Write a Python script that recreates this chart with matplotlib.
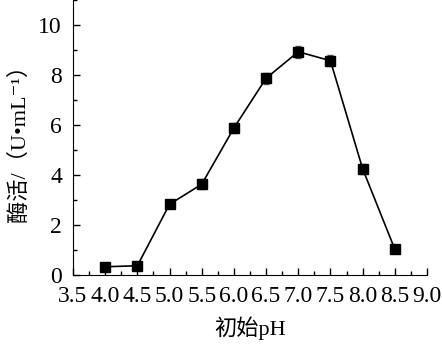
import numpy as np
import matplotlib.pyplot as plt
from matplotlib.ticker import MultipleLocator

ph = [4.0, 4.5, 5.0, 5.5, 6.0, 6.5, 7.0, 7.5, 8.0, 8.5]
activity = [0.33, 0.37, 2.83, 3.63, 5.88, 7.87, 8.93, 8.57, 4.25, 1.03]
err = [0.1, 0.1, 0.12, 0.2, 0.2, 0.22, 0.23, 0.22, 0.2, 0.15]
xticks = [3.5, 4.0, 4.5, 5.0, 5.5, 6.0, 6.5, 7.0, 7.5, 8.0, 8.5, 9.0]

plt.rcParams['font.family'] = ['Liberation Serif', 'Noto Sans CJK SC', 'DejaVu Serif']

fig = plt.figure(figsize=(4.42, 3.46), dpi=100)
ax = fig.add_axes([73 / 442, 71 / 346, 354 / 442, 275 / 346])

ax.errorbar(ph, activity, yerr=err, color='black', marker='s', markersize=6.5,
            linewidth=1.2, ecolor='#555555', elinewidth=1, capsize=2.5, capthick=1)

ax.set_xlim(3.5, 9.0)
ax.set_ylim(0, 11)
ax.set_xticks(xticks)
ax.set_xticklabels([f'{v:.1f}' for v in xticks])
ax.xaxis.set_minor_locator(MultipleLocator(0.25))
ax.yaxis.set_major_locator(MultipleLocator(2))
ax.yaxis.set_minor_locator(MultipleLocator(1))

ax.spines['top'].set_visible(False)
ax.spines['right'].set_visible(False)
ax.tick_params(which='both', direction='in', labelsize=17, width=1)
ax.tick_params(which='major', length=5)
ax.tick_params(axis='x', which='major', pad=8)
ax.tick_params(axis='y', which='major', pad=8)
ax.tick_params(which='minor', length=3)

ax.set_xlabel('初始pH', fontsize=16, labelpad=7)
ax.set_ylabel('酶活/（U•mL⁻¹）', fontsize=16, labelpad=6)

fig.savefig('out.png', dpi=100)
